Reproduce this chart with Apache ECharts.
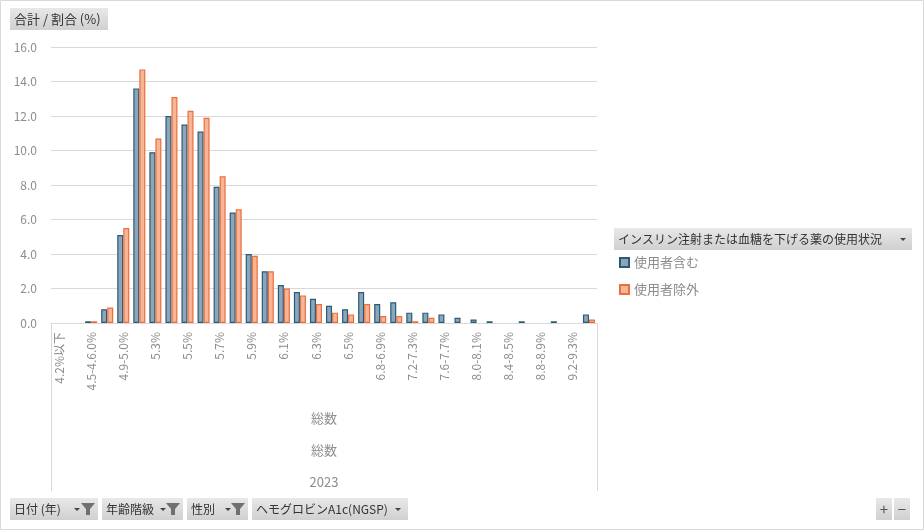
<!DOCTYPE html>
<html>
<head>
<meta charset="utf-8">
<script src="https://cdn.jsdelivr.net/npm/echarts@6/dist/echarts.min.js"></script>
<style>
  html, body { margin: 0; padding: 0; background: #fff; }
  #main { width: 924px; height: 530px; }
</style>
</head>
<body>
<div id="main"></div>
<script>
// HbA1c bands (x axis)
var categories = [
  '4.2%以下', '4.3-4.4%', '4.5-4.6.0%', '4.7-4.8%', '4.9-5.0%', '5.1-5.2%',
  '5.3%', '5.4%', '5.5%', '5.6%', '5.7%', '5.8%', '5.9%', '6.0%', '6.1%', '6.2%',
  '6.3%', '6.4%', '6.5%', '6.6-6.7%', '6.8-6.9%', '7.0-7.1%', '7.2-7.3%', '7.4-7.5%',
  '7.6-7.7%', '7.8-7.9%', '8.0-8.1%', '8.2-8.3%', '8.4-8.5%', '8.6-8.7%', '8.8-8.9%',
  '9.0-9.1%', '9.2-9.3%', '9.4%以上'
];
// 使用者含む
var withUsers = [
  0, 0, 0.1, 0.8, 5.1, 13.6, 9.9, 12.0, 11.5, 11.1, 7.9, 6.4, 4.0, 3.0, 2.2, 1.8,
  1.4, 1.0, 0.8, 1.8, 1.1, 1.2, 0.6, 0.6, 0.5, 0.3, 0.2, 0.1, 0, 0.1, 0, 0.1, 0, 0.5
];
// 使用者除外
var withoutUsers = [
  0, 0, 0.1, 0.9, 5.5, 14.7, 10.7, 13.1, 12.3, 11.9, 8.5, 6.6, 3.9, 3.0, 2.0, 1.6,
  1.1, 0.6, 0.5, 1.1, 0.4, 0.4, 0.1, 0.3, 0, 0, 0, 0, 0, 0, 0, 0, 0, 0.2
];
var seriesNames = ['使用者含む', '使用者除外'];
var levelLabels = ['総数', '総数', '2023'];

var FONT = '"Noto Sans CJK JP", "Noto Sans", sans-serif';
var GREY = '#8c8c8c';

function noZero(arr) {
  return arr.map(function (v) { return v === 0 ? '-' : v; });
}

// little grey Excel-style pivot buttons
function btnFill() {
  return new echarts.graphic.LinearGradient(0, 0, 0, 1, [
    { offset: 0, color: '#e8e8e8' }, { offset: 1, color: '#d0d0d0' }
  ]);
}
function button(x, y, w, h, label, arrowX, funnelX, fontSize) {
  var els = [
    { type: 'rect', shape: { x: x, y: y, width: w, height: h }, style: { fill: btnFill() } }
  ];
  if (label) {
    els.push({ type: 'text', x: x + 4, y: y + h / 2,
      style: { text: label, font: (fontSize || 12) + 'px ' + FONT, fill: '#333', verticalAlign: 'middle' } });
  }
  if (arrowX) {
    els.push({ type: 'polygon', shape: { points: [[arrowX - 3, y + h / 2 - 1], [arrowX + 3, y + h / 2 - 1], [arrowX, y + h / 2 + 2]] },
      style: { fill: '#444' } });
  }
  if (funnelX) {
    var cy = y + h / 2;
    els.push({ type: 'polygon', shape: { points: [[funnelX - 7, cy - 6], [funnelX + 7, cy - 6], [funnelX + 2, cy], [funnelX + 2, cy + 6], [funnelX - 2, cy + 6], [funnelX - 2, cy]] },
      style: { fill: '#707070' } });
  }
  return els;
}

var graphics = [].concat(
  [{ type: 'rect', shape: { x: 0.5, y: 0.5, width: 923, height: 529 }, style: { fill: 'none', stroke: '#d9d9d9', lineWidth: 1 } }],
  button(10, 8, 98, 22, '合計 / 割合 (%)', null, null, 13),
  button(614, 228, 298, 22, 'インスリン注射または血糖を下げる薬の使用状況', 903),
  button(10, 498, 88, 22, '日付 (年)', 77, 88),
  button(102, 498, 81, 22, '年齢階級', 163, 173),
  button(187, 498, 61, 22, '性別', 228, 238),
  button(252, 498, 156, 22, 'ヘモグロビンA1c(NGSP)', 398),
  button(876, 498, 16, 22),
  button(894, 498, 16, 22),
  [
    { type: 'text', x: 884, y: 509, style: { text: '+', font: '15px ' + FONT, fill: '#555', align: 'center', verticalAlign: 'middle' } },
    { type: 'text', x: 902, y: 509, style: { text: '−', font: '15px ' + FONT, fill: '#555', align: 'center', verticalAlign: 'middle' } },
    { type: 'line', shape: { x1: 51.5, y1: 323, x2: 51.5, y2: 491 }, style: { stroke: '#d9d9d9', lineWidth: 1 } },
    { type: 'line', shape: { x1: 597.5, y1: 323, x2: 597.5, y2: 491 }, style: { stroke: '#d9d9d9', lineWidth: 1 } }
  ],
  levelLabels.map(function (t, i) {
    return { type: 'text', x: 324, y: 418 + i * 32,
      style: { text: t, font: '13px ' + FONT, fill: GREY, align: 'center', verticalAlign: 'middle' } };
  })
);

var option = {
  backgroundColor: '#fff',
  animation: false,
  textStyle: { fontFamily: FONT },
  grid: { left: 51, right: 327, top: 47, bottom: 207, containLabel: false },
  legend: {
    orient: 'vertical',
    left: 614, top: 251,
    itemWidth: 9, itemHeight: 9, itemGap: 14,
    icon: 'rect',
    textStyle: { color: GREY, fontSize: 13, fontFamily: FONT },
    data: seriesNames
  },
  xAxis: {
    type: 'category',
    data: categories,
    axisLine: { lineStyle: { color: '#d9d9d9' } },
    axisTick: { show: false },
    axisLabel: { rotate: 90, interval: 1, color: GREY, fontSize: 12, margin: 9, fontFamily: FONT }
  },
  yAxis: {
    type: 'value',
    min: 0, max: 16, interval: 2,
    axisLine: { show: false },
    axisTick: { show: false },
    splitLine: { lineStyle: { color: '#d9d9d9', width: 1 } },
    axisLabel: {
      color: GREY, fontSize: 12, margin: 14, fontFamily: FONT,
      formatter: function (v) { return v.toFixed(1); }
    }
  },
  series: [
    {
      name: seriesNames[0], type: 'bar', data: noZero(withUsers),
      barGap: '0%', barCategoryGap: '25%',
      itemStyle: { color: '#8ca6b9', borderColor: '#2b5a75', borderWidth: 1.2 }
    },
    {
      name: seriesNames[1], type: 'bar', data: noZero(withoutUsers),
      itemStyle: { color: '#f7b595', borderColor: '#e8703e', borderWidth: 1.2 }
    }
  ],
  graphic: graphics
};

var myChart = echarts.init(document.getElementById('main'));
myChart.setOption(option);
</script>
</body>
</html>
